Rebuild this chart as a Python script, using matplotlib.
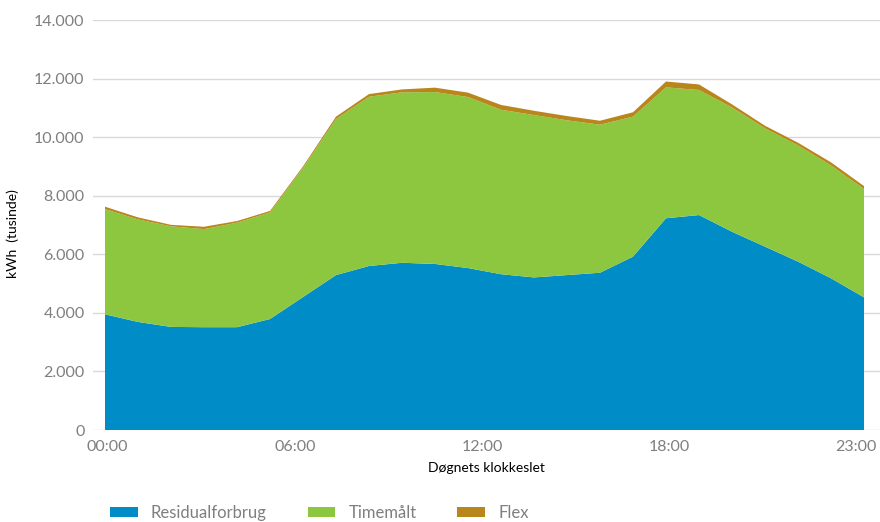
import numpy as np
import matplotlib
matplotlib.use("Agg")
import matplotlib.pyplot as plt
from matplotlib.ticker import FuncFormatter

# -----------------------------
# Data (kWh, tusinde) per hour
# -----------------------------
hours = list(range(24))
residual = [3950, 3690, 3520, 3510, 3510, 3790, 4540, 5290, 5600, 5710, 5670, 5530,
            5320, 5210, 5290, 5370, 5920, 7230, 7340, 6770, 6260, 5750, 5180, 4530]
timemaalt = [3595, 3500, 3435, 3350, 3570, 3640, 4410, 5330, 5780, 5820, 5870, 5840,
             5615, 5545, 5285, 5055, 4780, 4470, 4270, 4245, 4040, 3970, 3855, 3700]
flex = [80, 70, 50, 80, 55, 50, 50, 80, 90, 100, 150, 150,
        165, 145, 145, 135, 150, 200, 190, 105, 90, 90, 105, 100]
series_labels = ["Residualforbrug", "Timemålt", "Flex"]
# label positions as they sit in the original chart (Excel spacing)
xtick_pos = [0.08, 5.76, 11.44, 17.09, 22.76]
xtick_labels = ["00:00", "06:00", "12:00", "18:00", "23:00"]
yticks = [0, 2000, 4000, 6000, 8000, 10000, 12000, 14000]

colors = ["#008CC6", "#8DC63F", "#B8861B"]
tick_grey = "#7F7F7F"

plt.rcParams["font.family"] = ["Lato", "DejaVu Sans"]

W, H = 880, 522
fig = plt.figure(figsize=(W / 100, H / 100), dpi=100)
# plot area in pixels: x 93..880, y 20..430
ax = fig.add_axes([93 / W, 1 - 430 / H, (880 - 93) / W, 410 / H])

ax.stackplot(hours, residual, timemaalt, flex, colors=colors,
             labels=series_labels, linewidth=0, zorder=2)

ax.set_xlim(-12 / 33, 23 + 16 / 33)
ax.set_ylim(0, 14000)
ax.set_yticks(yticks)
ax.yaxis.set_major_formatter(FuncFormatter(lambda v, p: f"{int(v):,}".replace(",", ".")))
ax.set_xticks(xtick_pos)
ax.set_xticklabels(xtick_labels)

ax.grid(axis="y", color="#D9D9D9", linewidth=1, zorder=0)
ax.set_axisbelow(True)
for s in ax.spines.values():
    s.set_visible(False)
ax.tick_params(axis="both", length=0, labelsize=11.5, colors=tick_grey)
ax.tick_params(axis="y", pad=6)
ax.tick_params(axis="x", pad=7)

ax.set_xlabel("Døgnets klokkeslet", fontsize=10, color="black", labelpad=6)
ax.set_ylabel("kWh  (tusinde)", fontsize=10, color="black")
ax.yaxis.set_label_coords(-0.094, 0.478)

fig.legend(loc="center left", bbox_to_anchor=(110 / W, 1 - 513 / H), ncol=3,
           frameon=False, fontsize=12, handlelength=1.65, handleheight=0.5,
           handletextpad=0.8, columnspacing=2.45, borderpad=0, borderaxespad=0,
           labelcolor=tick_grey)

fig.savefig("out.png", dpi=100)
